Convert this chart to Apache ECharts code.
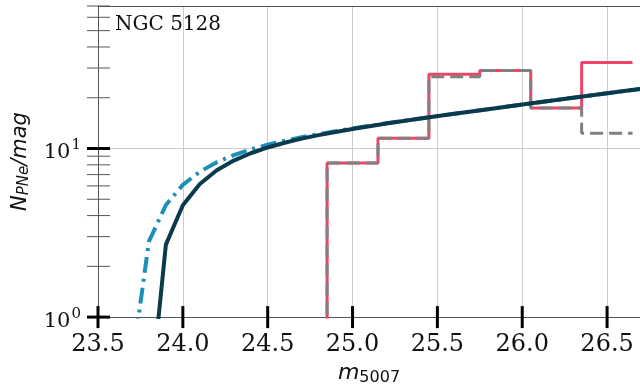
<!DOCTYPE html>
<html>
<head>
<meta charset="utf-8">
<script src="https://cdn.jsdelivr.net/npm/echarts@6/dist/echarts.min.js"></script>
<style>
  html, body { margin: 0; padding: 0; background: #ffffff; }
  #chart { width: 640px; height: 391px; }
</style>
</head>
<body>
<div id="chart"></div>
<script>
// Binned planetary-nebula counts per magnitude (bin edges in m5007)
const binEdges = [24.85, 25.15, 25.45, 25.75, 26.05, 26.35, 26.65];
const countsFull = [8.2, 11.5, 27.6, 29.0, 17.4, 32.4];
const countsTrimmed = [8.2, 11.5, 26.6, 29.0, 17.4, 12.3];
const emptyBinLevel = 0.1;   // level of the empty bin left of the first edge

// Fitted luminosity function
const fitM = [23.8, 23.9, 24.0, 24.1, 24.2, 24.3, 24.4, 24.5, 24.6, 24.7, 24.8, 24.9, 25.0,
              25.2, 25.4, 25.6, 25.8, 26.0, 26.2, 26.4, 26.6, 26.8];
const fitN = [0.27, 2.69, 4.61, 6.16, 7.43, 8.48, 9.37, 10.14, 10.82, 11.44, 12.00, 12.54, 13.06,
              14.05, 15.05, 16.06, 17.11, 18.21, 19.37, 20.61, 21.92, 23.31];

// Alternative fit with a brighter cutoff
const altM = [23.7, 23.8, 23.9, 24.0, 24.1, 24.2, 24.3, 24.4, 24.5, 24.6, 24.7, 24.8, 24.9, 25.0,
              25.2, 25.4, 25.6, 25.8, 26.0, 26.2, 26.4, 26.6, 26.8];
const altN = [0.52, 2.81, 4.62, 6.09, 7.28, 8.29, 9.14, 9.87, 10.52, 11.11, 11.66, 12.17, 12.68, 13.16,
              14.11, 15.08, 16.08, 17.12, 18.21, 19.38, 20.61, 21.92, 23.31];

// Axis ranges and ticks
const X_MIN = 23.5, X_MAX = 26.694, X_STEP = 0.5;
const Y_MIN = 1, Y_MAX = 70;
const xTickValues = [23.5, 24.0, 24.5, 25.0, 25.5, 26.0, 26.5];
const yMajorTicks = [1, 10];
const yMinorTicks = [2, 3, 4, 5, 6, 7, 8, 9, 20, 30, 40, 50, 60, 70];

const SERIF = 'DejaVu Serif';
const SANS = 'DejaVu Sans';

function stepPath(edges, values, floor) {
  const pts = [[edges[0], floor]];
  for (let i = 0; i < values.length; i++) {
    pts.push([edges[i], values[i]]);
    pts.push([edges[i + 1], values[i]]);
  }
  return pts;
}

function zip(a, b) { return a.map((v, i) => [v, b[i]]); }

function tickSeries(data, horizontal, before, after, width, color) {
  return {
    type: 'custom',
    coordinateSystem: 'cartesian2d',
    silent: true,
    clip: false,
    z: 10,
    data: data,
    renderItem: function (params, api) {
      const p = api.coord([api.value(0), api.value(1)]);
      const shape = horizontal
        ? { x1: p[0] - before, y1: p[1], x2: p[0] + after, y2: p[1] }
        : { x1: p[0], y1: p[1] - before, x2: p[0], y2: p[1] + after };
      return { type: 'line', shape: shape, style: { stroke: color, lineWidth: width } };
    }
  };
}

const chart = echarts.init(document.getElementById('chart'), null, { renderer: 'canvas' });

chart.setOption({
  animation: false,
  backgroundColor: '#ffffff',
  title: {
    text: 'NGC 5128',
    left: 115,
    top: 15,
    padding: 0,
    textStyle: { fontFamily: SERIF, fontSize: 20, fontWeight: 'normal', color: '#111111' }
  },
  grid: { left: 98, right: 0, top: 6, bottom: 69 },
  xAxis: [
    {
      type: 'value',
      min: X_MIN,
      max: X_MAX,
      interval: X_STEP,
      axisLine: { show: true, onZero: false, lineStyle: { color: '#555555', width: 1 } },
      axisTick: { show: false },
      axisLabel: {
        showMaxLabel: false,
        margin: 16,
        fontFamily: SERIF,
        fontSize: 24,
        color: '#111111',
        formatter: v => v.toFixed(1)
      },
      splitLine: { show: true, lineStyle: { color: '#cccccc', width: 1 } },
      name: '{i|m}{sub|5007}',
      nameLocation: 'middle',
      nameGap: 38,
      nameTextStyle: {
        rich: {
          i: { fontFamily: SANS, fontStyle: 'italic', fontSize: 22, color: '#111111' },
          sub: { fontFamily: SANS, fontSize: 16, color: '#111111', padding: [10, 0, 0, 0] }
        }
      }
    },
    {
      type: 'value',
      position: 'top',
      min: X_MIN,
      max: X_MAX,
      axisLine: { show: true, onZero: false, lineStyle: { color: '#555555', width: 1 } },
      axisTick: { show: false },
      axisLabel: { show: false },
      splitLine: { show: false }
    }
  ],
  yAxis: {
    type: 'log',
    logBase: 10,
    min: Y_MIN,
    max: Y_MAX,
    axisLine: { show: true, onZero: false, lineStyle: { color: '#555555', width: 1 } },
    axisTick: { show: false },
    axisLabel: {
      showMaxLabel: false,
      margin: 17,
      formatter: function (v) {
        const e = Math.log10(v);
        if (Math.abs(e - Math.round(e)) > 1e-6) return '';
        return '{b|10}{s|' + Math.round(e) + '}';
      },
      rich: {
        b: { fontFamily: SERIF, fontSize: 21, color: '#111111', padding: [8, 0, 0, 0] },
        s: { fontFamily: SERIF, fontSize: 15, color: '#111111', padding: [0, 0, 6, 1] }
      }
    },
    splitLine: { show: true, lineStyle: { color: '#cccccc', width: 1 } },
    name: '{i|N}{sub|PNe}{i|/mag}',
    nameLocation: 'middle',
    nameRotate: 90,
    nameGap: 66,
    nameTextStyle: {
      rich: {
        i: { fontFamily: SANS, fontStyle: 'italic', fontSize: 21, color: '#111111' },
        sub: { fontFamily: SANS, fontStyle: 'italic', fontSize: 15, color: '#111111', padding: [8, 0, 0, 0] }
      }
    }
  },
  series: [
    {
      name: 'all',
      type: 'line',
      data: stepPath(binEdges, countsFull, emptyBinLevel),
      showSymbol: false,
      clip: true,
      z: 2,
      lineStyle: { color: '#ef4468', width: 3 }
    },
    {
      name: 'trimmed',
      type: 'line',
      data: stepPath(binEdges, countsTrimmed, emptyBinLevel),
      showSymbol: false,
      clip: true,
      z: 3,
      lineStyle: { color: '#808080', width: 3, type: [13, 6] }
    },
    {
      name: 'alt fit',
      type: 'line',
      data: zip(altM, altN),
      showSymbol: false,
      clip: true,
      z: 4,
      lineStyle: { color: '#1c8fb8', width: 4, type: [16, 6, 3, 6] }
    },
    {
      name: 'fit',
      type: 'line',
      data: zip(fitM, fitN),
      showSymbol: false,
      clip: true,
      z: 5,
      lineStyle: { color: '#0b3a4c', width: 4 }
    },
    tickSeries(xTickValues.map(v => [v, Y_MIN]), false, 11, 11, 3, '#000000'),
    tickSeries(yMajorTicks.map(v => [X_MIN, v]), true, 11, 12, 3, '#000000'),
    tickSeries(yMinorTicks.map(v => [X_MIN, v]), true, 11, 12, 1, '#555555')
  ]
});
</script>
</body>
</html>
